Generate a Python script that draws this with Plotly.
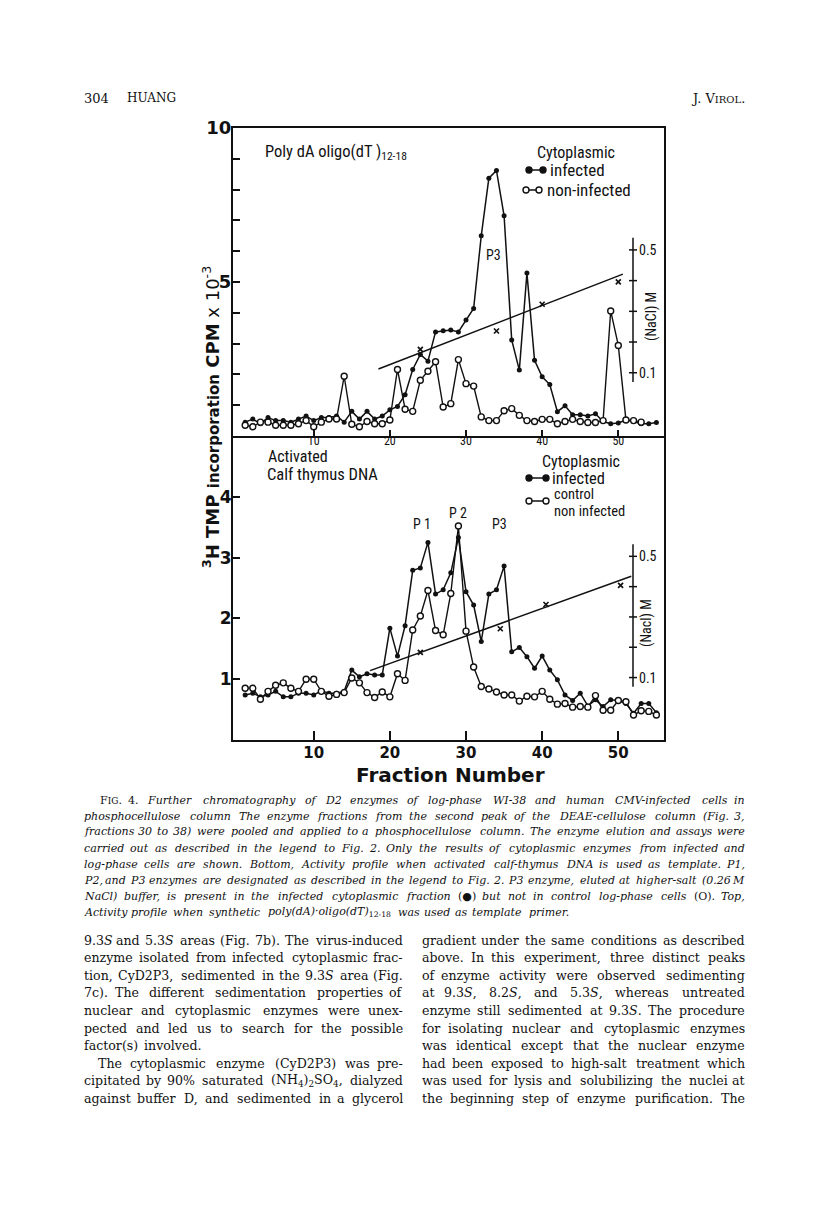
import re
import plotly.graph_objects as go

W, H = 816, 1211
OFF = 8  # the page body adds an 8px margin; shift everything back by that


def px(x):
    return (x - OFF) / W


def py(y):
    return 1 - (y - OFF) / H


# ---- values ----
# top panel: poly(dA).oligo(dT) template, CPM x 10^-3
top_frac_inf = list(range(1, 56))
top_inf = [0.45, 0.55, 0.40, 0.60, 0.50, 0.50, 0.45, 0.55, 0.65, 0.50,
           0.60, 0.60, 0.65, 0.45, 0.80, 0.55, 0.80, 0.55, 0.65, 0.85,
           0.96, 1.34, 2.16, 2.65, 2.43, 3.38, 3.42, 3.44, 3.38, 3.77,
           4.14, 6.50, 8.37, 8.62, 7.15, 3.12, 2.14, 5.29, 2.46, 1.92,
           1.67, 0.79, 0.98, 0.69, 0.69, 0.65, 0.72, 0.47, 0.40, 0.42,
           0.52, 0.47, 0.40, 0.40, 0.44]
top_frac_non = list(range(1, 54))
top_non = [0.35, 0.30, 0.45, 0.45, 0.35, 0.35, 0.35, 0.40, 0.50, 0.30,
           0.45, 0.55, 0.55, 1.94, 0.38, 0.30, 0.47, 0.40, 0.40, 0.52,
           2.16, 0.87, 0.80, 1.81, 2.10, 2.41, 0.94, 1.05, 2.48, 1.70,
           1.62, 0.62, 0.50, 0.50, 0.82, 0.89, 0.67, 0.50, 0.47, 0.54,
           0.54, 0.40, 0.47, 0.54, 0.47, 0.44, 0.44, 0.50, 4.06, 2.94,
           0.52, 0.50, 0.45]
top_grad_frac = [18.5, 50.6]
top_grad_nacl = [0.112, 0.421]
top_x_frac = [24, 34, 40, 50]
top_x_nacl = [0.176, 0.236, 0.323, 0.396]

# bottom panel: activated calf thymus DNA template
bot_frac_inf = list(range(1, 56))
bot_inf = [0.74, 0.77, 0.71, 0.74, 0.80, 0.71, 0.71, 0.77, 0.77, 0.74,
           0.81, 0.77, 0.77, 0.80, 1.15, 1.04, 1.09, 1.07, 1.07, 1.84,
           1.38, 1.88, 2.79, 2.83, 3.25, 2.40, 2.47, 2.75, 3.33, 2.44,
           2.22, 1.62, 2.40, 2.47, 2.86, 1.45, 1.52, 1.37, 1.18, 1.38,
           1.15, 0.99, 0.74, 0.65, 0.77, 0.56, 0.66, 0.55, 0.66, 0.65,
           0.60, 0.44, 0.60, 0.60, 0.45]
bot_frac_ctl = list(range(1, 56))
bot_ctl = [0.85, 0.85, 0.67, 0.80, 0.90, 0.94, 0.85, 0.80, 1.00, 1.00,
           0.80, 0.72, 0.75, 0.78, 1.02, 0.94, 0.78, 0.70, 0.79, 0.71,
           1.09, 0.98, 1.81, 2.04, 2.46, 1.80, 1.73, 2.41, 3.52, 1.79,
           1.20, 0.88, 0.84, 0.79, 0.74, 0.74, 0.64, 0.72, 0.71, 0.80,
           0.67, 0.59, 0.60, 0.54, 0.55, 0.54, 0.73, 0.49, 0.49, 0.65,
           0.63, 0.41, 0.48, 0.47, 0.41]
bot_grad_frac = [17.4, 51.7]
bot_grad_nacl = [0.123, 0.434]
bot_x_frac = [24, 34.5, 40.5, 50.3]
bot_x_nacl = [0.183, 0.261, 0.341, 0.404]

frac_ticks = [10, 20, 30, 40, 50]
top_cpm_ticks = [1, 2, 3, 4, 5, 6, 7, 8, 9, 10]
top_cpm_labels = ["", "", "", "", "5", "", "", "", "", "10"]
bot_cpm_ticks = [1, 2, 3, 4]
nacl_ticks = [0.1, 0.2, 0.3, 0.4, 0.5]
nacl_labels = ["0.1", "", "", "", "0.5"]

caption_lines = [
    "F<span style='font-size:9px'>IG</span>. 4. Further chromatography of D2 enzymes of log-phase WI-38 and human CMV-infected cells in",
    "phosphocellulose column  The enzyme fractions from the second peak of the DEAE-cellulose column (Fig. 3,",
    "fractions 30 to 38) were pooled and applied to a phosphocellulose column. The enzyme elution and assays were",
    "carried out as described in the legend to Fig. 2. Only the results of cytoplasmic enzymes from infected and",
    "log-phase cells are shown. Bottom, Activity profile when activated calf-thymus DNA is used as template. P1,",
    "P2, and P3 enzymes are designated as described in the legend to Fig. 2. P3 enzyme, eluted at higher-salt (0.26 M",
    "NaCl) buffer, is present in the infected cytoplasmic fraction (●) but not in control log-phase cells (O). Top,",
    "Activity profile when synthetic poly(dA)·oligo(dT)12-18 was used as template primer.",
]
caption_upright = {"4.", "(●)", "(O)."}
left_col = [
    "9.3S and 5.3S areas (Fig. 7b). The virus-induced",
    "enzyme isolated from infected cytoplasmic frac-",
    "tion, CyD2P3, sedimented in the 9.3S area (Fig.",
    "7c). The different sedimentation properties of",
    "nuclear and cytoplasmic enzymes were unex-",
    "pected and led us to search for the possible",
    "factor(s) involved.",
    "The cytoplasmic enzyme (CyD2P3) was pre-",
    "cipitated by 90% saturated (NH4)2SO4, dialyzed",
    "against buffer D, and sedimented in a glycerol",
]
right_col = [
    "gradient under the same conditions as described",
    "above. In this experiment, three distinct peaks",
    "of enzyme activity were observed sedimenting",
    "at 9.3S, 8.2S, and 5.3S, whereas untreated",
    "enzyme still sedimented at 9.3S. The procedure",
    "for isolating nuclear and cytoplasmic enzymes",
    "was identical except that the nuclear enzyme",
    "had been exposed to high-salt treatment which",
    "was used for lysis and solubilizing the nuclei at",
    "the beginning step of enzyme purification. The",
]

# ---- styles ----
INK = "#111111"
SANS = "Liberation Sans Narrow, Roboto Condensed, Lato, sans-serif"
HEAVY = "DejaVu Sans, sans-serif"
SERIF = "DejaVu Serif, serif"


def filled(x, y, xa, ya):
    return go.Scatter(x=x, y=y, xaxis=xa, yaxis=ya, mode="lines+markers",
                      line=dict(color=INK, width=1.5),
                      marker=dict(size=5, color=INK), showlegend=False,
                      hoverinfo="skip")


def hollow(x, y, xa, ya):
    return go.Scatter(x=x, y=y, xaxis=xa, yaxis=ya, mode="lines+markers",
                      line=dict(color=INK, width=1.4),
                      marker=dict(size=6, color="white",
                                  line=dict(color=INK, width=1.4)),
                      showlegend=False, hoverinfo="skip")


def gradient(x, y, xa, ya):
    return go.Scatter(x=x, y=y, xaxis=xa, yaxis=ya, mode="lines",
                      line=dict(color=INK, width=1.5), showlegend=False,
                      hoverinfo="skip")


def crosses(x, y, xa, ya):
    return go.Scatter(x=x, y=y, xaxis=xa, yaxis=ya, mode="markers",
                      marker=dict(symbol="x-thin", size=5,
                                  line=dict(color=INK, width=1.7)),
                      showlegend=False, hoverinfo="skip")


fig = go.Figure()
fig.add_trace(gradient(top_grad_frac, top_grad_nacl, "x", "y3"))
fig.add_trace(crosses(top_x_frac, top_x_nacl, "x", "y3"))
fig.add_trace(filled(top_frac_inf, top_inf, "x", "y"))
fig.add_trace(hollow(top_frac_non, top_non, "x", "y"))
fig.add_trace(gradient(bot_grad_frac, bot_grad_nacl, "x2", "y4"))
fig.add_trace(crosses(bot_x_frac, bot_x_nacl, "x2", "y4"))
fig.add_trace(filled(bot_frac_inf, bot_inf, "x2", "y2"))
fig.add_trace(hollow(bot_frac_ctl, bot_ctl, "x2", "y2"))

x_dom = [px(233), px(664)]
frac_range = [-0.6, 56]
nacl_range = [-0.106, 0.897]
ax_common = dict(showgrid=False, zeroline=False, showline=True, linecolor=INK,
                 linewidth=2, ticks="inside", tickcolor=INK, automargin=False)

fig.update_layout(
    template="none",
    width=W, height=H, margin=dict(l=0, r=0, t=0, b=0, autoexpand=False),
    paper_bgcolor="white", plot_bgcolor="rgba(0,0,0,0)",
    xaxis=dict(domain=x_dom, range=frac_range, anchor="y", tickvals=frac_ticks,
               ticklen=6, tickwidth=1.5, ticklabelstandoff=-7, mirror=True,
               tickfont=dict(family=SANS, size=12, color=INK), **ax_common),
    yaxis=dict(domain=[py(436), py(128)], range=[0, 10], anchor="x",
               tickvals=top_cpm_ticks, ticktext=top_cpm_labels, ticklen=7,
               tickwidth=1.5, ticklabelstandoff=-4, mirror=True,
               tickfont=dict(family=HEAVY, size=18, color=INK, weight="bold"),
               **ax_common),
    xaxis2=dict(domain=x_dom, range=frac_range, anchor="y2", tickvals=frac_ticks,
                ticklen=9, tickwidth=1.5, ticklabelstandoff=-2, mirror=False,
                tickfont=dict(family=HEAVY, size=15, color=INK, weight="bold"),
                **ax_common),
    yaxis2=dict(domain=[py(740), py(436)], range=[0, 5], anchor="x2",
                tickvals=bot_cpm_ticks, ticklen=7, tickwidth=1.5,
                ticklabelstandoff=-4, mirror=True,
                tickfont=dict(family=HEAVY, size=17, color=INK, weight="bold"),
                **ax_common),
    yaxis3=dict(overlaying="y", range=nacl_range, visible=False, anchor="x"),
    yaxis4=dict(overlaying="y2", range=nacl_range, visible=False, anchor="x2"),
)

shapes = []
annos = []


def note(x, y, text, size=14, family=SANS, anchor="left", angle=0):
    annos.append(dict(x=px(x), y=py(y), xref="paper", yref="paper", text=text,
                      showarrow=False, xanchor=anchor, yanchor="middle",
                      textangle=angle, font=dict(family=family, size=size, color=INK)))


# NaCl scale bars drawn inside each panel
for yref in ("y3", "y4"):
    shapes.append(dict(type="line", xref="paper", yref=yref, x0=px(633), x1=px(633),
                       y0=0.07, y1=0.54, line=dict(color=INK, width=1.5)))
    for m, lab in zip(nacl_ticks, nacl_labels):
        shapes.append(dict(type="line", xref="paper", yref=yref, x0=px(629), x1=px(637),
                           y0=m, y1=m, line=dict(color=INK, width=1.5)))
        if lab:
            annos.append(dict(x=px(637), y=m, xref="paper", yref=yref, text=lab,
                              showarrow=False, xanchor="left", yanchor="middle",
                              font=dict(family=SANS, size=14, color=INK)))


def legend_row(y, x1, x2, hollow_mark):
    shapes.append(dict(type="line", xref="paper", yref="paper", x0=px(x1), x1=px(x2),
                       y0=py(y), y1=py(y), line=dict(color=INK, width=1.5)))
    for xc in (x1, x2):
        shapes.append(dict(type="circle", xref="paper", yref="paper",
                           x0=px(xc - 3), x1=px(xc + 3), y0=py(y + 3), y1=py(y - 3),
                           fillcolor="white" if hollow_mark else INK,
                           line=dict(color=INK, width=1.4)))


# top panel labels
note(263, 153, "Poly dA oligo(dT )<sub>12-18</sub>", size=16.5)
note(576, 152, "Cytoplasmic", size=16, anchor="center")
legend_row(170, 529, 543, False)
note(548, 170, "infected", size=17)
legend_row(190, 526, 539, True)
note(545, 190, "non-infected", size=17)
note(493, 255, "P3", size=14, anchor="center")
note(651, 317, "(NaCl) M", size=14, anchor="center", angle=-90)

# bottom panel labels
note(266, 457, "Activated", size=16)
note(265, 474, "Calf thymus DNA", size=16.5)
note(581, 462, "Cytoplasmic", size=16, anchor="center")
legend_row(478, 529, 546, False)
note(550, 478, "infected", size=16.5)
legend_row(501, 529, 546, True)
note(552, 495, "control", size=14.5)
note(552, 511, "non infected", size=14.5)
note(422, 524, "P 1", size=14, anchor="center")
note(458, 513, "P 2", size=14, anchor="center")
note(499, 524, "P3", size=14, anchor="center")
note(647, 623, "(Nacl) M", size=14, anchor="center", angle=-90)

# axis titles
note(211, 417, "<b><sup>3</sup>H TMP <span style='font-size:15px'>incorporation</span> CPM</b> x 10<sup>-3</sup>",
     size=18, family=HEAVY, anchor="center", angle=-90)
note(451, 775, "<b>Fraction Number</b>", size=20, family=HEAVY, anchor="center")

# ---- page text, set justified word by word ----
EM = {" ": .318, ".": .318, ",": .318, "(": .390, ")": .390, "-": .338,
      ":": .337, ";": .337, "%": .950, "·": .318, "●": .80}
EM.update({c: .636 for c in "0123456789"})
EM.update(dict(a=.596, b=.640, c=.560, d=.640, e=.592, f=.370, g=.640, h=.644,
               i=.320, j=.310, k=.601, l=.320, m=.948, n=.644, o=.602, p=.640,
               q=.640, r=.478, s=.513, t=.402, u=.644, v=.565, w=.856, x=.564,
               y=.565, z=.527))
EM.update(dict(A=.722, B=.735, C=.765, D=.802, E=.730, F=.694, G=.799, H=.872,
               I=.395, J=.401, K=.747, L=.664, M=1.024, N=.875, O=.820, P=.673,
               Q=.820, R=.753, S=.685, T=.667, U=.843, V=.722, W=1.028, X=.712,
               Y=.660, Z=.695))
WIDTH_FUDGE = 1.05


def text_width(s, size):
    w, scale, i = 0.0, 1.0, 0
    while i < len(s):
        if s[i] == "<":
            j = s.index(">", i)
            tag = s[i + 1:j]
            if tag in ("sub", "sup"):
                scale = 0.7
            elif tag.startswith("span"):
                scale = 0.75
            elif tag in ("/sub", "/sup", "/span"):
                scale = 1.0
            i = j + 1
            continue
        w += EM.get(s[i], 0.55) * size * scale
        i += 1
    return w * WIDTH_FUDGE


def split_words(line):
    words, cur, in_tag = [], "", False
    for ch in line:
        if ch == "<":
            in_tag = True
        elif ch == ">":
            in_tag = False
        if ch == " " and not in_tag:
            if cur:
                words.append(cur)
            cur = ""
        else:
            cur += ch
    if cur:
        words.append(cur)
    return words


def set_line(words, x0, x1, y, size, justify=True):
    # words are pinned by their centres, so width estimates do not pile up
    widths = [text_width(w, size) for w in words]
    n = len(words)
    gap = 0.33 * size
    scale = 1.0
    if justify and n > 1:
        gap = (x1 - x0 - sum(widths)) / (n - 1)
        if gap < 0.22 * size:
            gap = 0.22 * size
            scale = (x1 - x0) / (sum(widths) + gap * (n - 1))
    x = x0
    for k, (w, wd) in enumerate(zip(words, widths)):
        if k == 0:
            note(x0, y, w, size=size, family=SERIF)
        elif justify and k == n - 1:
            note(x1, y, w, size=size, family=SERIF, anchor="right")
        else:
            note(x0 + (x - x0 + wd / 2) * scale, y, w, size=size, family=SERIF,
                 anchor="center")
        x += wd + gap


def caption_word(w):
    if w.startswith("F<span") or w in caption_upright:
        return w
    if "oligo(dT)12-18" in w:
        return "<i>" + w.replace("12-18", "") + "</i><sub>12-18</sub>"
    return "<i>" + w + "</i>"


def body_word(w):
    w = re.sub(r"(\d\.\d)S", r"\1<i>S</i>", w)
    return w.replace("(NH4)2SO4", "(NH<sub>4</sub>)<sub>2</sub>SO<sub>4</sub>")


note(82, 98, "304", size=13, family=SERIF)
note(125, 98, "HUANG", size=12, family=SERIF)
note(747, 98, "J. V<span style='font-size:10px'>IROL</span>.", size=13, family=SERIF, anchor="right")

for k, line in enumerate(caption_lines):
    words = [caption_word(w) for w in split_words(line)]
    set_line(words, 98 if k == 0 else 82, 747, 800 + k * 16, 11.0,
             justify=k < len(caption_lines) - 1)

for col, (x0, x1) in ((left_col, (82, 405)), (right_col, (420, 747))):
    for k, line in enumerate(col):
        words = [body_word(w) for w in split_words(line)]
        indent = 14 if (col is left_col and k == 7) else 0
        last = col is left_col and k == 6
        set_line(words, x0 + indent, x1, 940 + k * 17.6, 12.6, justify=not last)

fig.update_layout(shapes=shapes, annotations=annos)
fig.write_html("out.html")
